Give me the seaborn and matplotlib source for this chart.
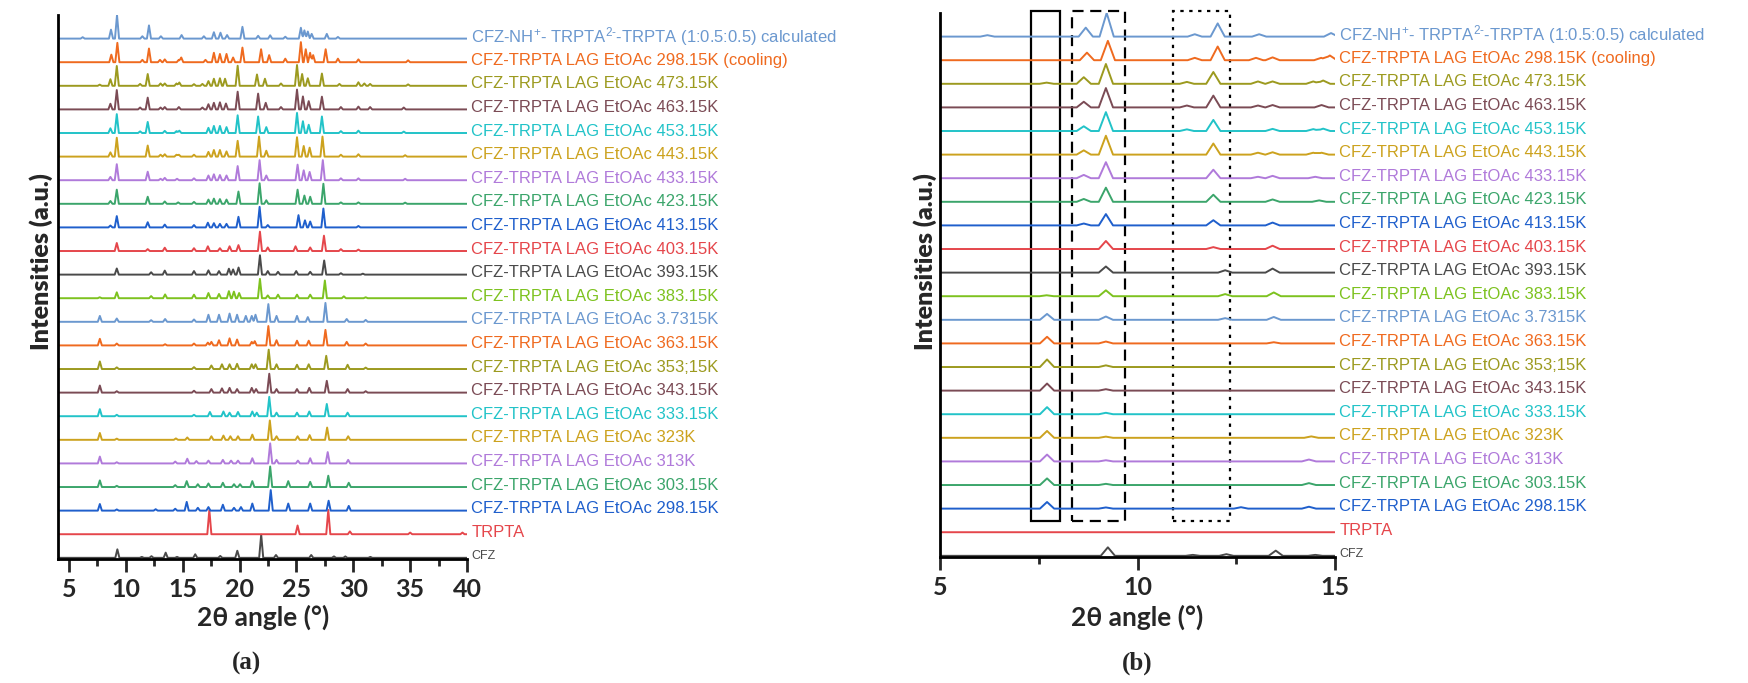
"""
Stacked variable-temperature PXRD patterns of CFZ-TRPTA (LAG, EtOAc).
(a) full 2-theta range, (b) low-angle zoom with boxed regions.
Writes out.png
"""
import numpy as np
import matplotlib.pyplot as plt
import matplotlib.patches as mpatches
from matplotlib.ticker import MultipleLocator
import seaborn as sns

# ---------------------------------------------------------------- data
# peak lists (2theta in degrees, height in units of trace spacing), bottom -> top
cfz = [(9.25, 0.36), (11.4, 0.04), (12.25, 0.07), (13.5, 0.22), (14.5, 0.04),
       (16.1, 0.15), (18.3, 0.08), (19.8, 0.3), (21.9, 0.98), (23.2, 0.12),
       (26.3, 0.12), (28.3, 0.06), (29.3, 0.06), (31.5, 0.04)]
trpta = [(17.34, 1.03), (25.1, 0.37), (27.8, 1.03), (29.7, 0.12), (35.0, 0.07), (39.6, 0.07)]
t298 = [(7.71, 0.28), (9.2, 0.05), (12.62, 0.06), (14.34, 0.08), (15.35, 0.37), (16.33, 0.12),
        (17.26, 0.15), (18.53, 0.25), (19.51, 0.12), (20.12, 0.15), (21.12, 0.3), (22.74, 0.87),
        (24.28, 0.3), (26.21, 0.3), (27.83, 0.42), (29.6, 0.2)]
t303 = [(7.71, 0.28), (9.2, 0.05), (14.34, 0.08), (15.35, 0.25), (16.33, 0.12), (17.26, 0.15),
        (18.53, 0.18), (19.51, 0.12), (20.04, 0.12), (21.12, 0.25), (22.69, 0.87), (24.28, 0.25),
        (26.21, 0.22), (27.8, 0.48), (29.6, 0.18)]
t313 = [(7.71, 0.29), (9.2, 0.05), (14.34, 0.08), (15.4, 0.2), (16.2, 0.1), (17.26, 0.12),
        (18.53, 0.15), (19.25, 0.12), (19.86, 0.12), (21.12, 0.22), (22.69, 0.85), (23.25, 0.15),
        (25.13, 0.12), (26.21, 0.22), (27.75, 0.48), (29.55, 0.15)]
t323 = [(7.71, 0.29), (9.2, 0.05), (14.4, 0.06), (15.4, 0.1), (17.52, 0.15), (18.58, 0.18),
        (19.19, 0.15), (19.86, 0.15), (21.12, 0.22), (22.66, 0.82), (23.25, 0.15), (25.1, 0.15),
        (26.16, 0.2), (27.7, 0.52), (29.55, 0.15)]
t333 = [(7.71, 0.3), (9.2, 0.06), (15.99, 0.06), (17.39, 0.18), (18.58, 0.2), (19.12, 0.15),
        (19.86, 0.18), (21.12, 0.2), (21.51, 0.15), (22.61, 0.82), (23.25, 0.15), (25.05, 0.15),
        (26.13, 0.2), (27.67, 0.52), (29.5, 0.15)]
t343 = [(7.71, 0.3), (9.2, 0.06), (15.99, 0.08), (17.52, 0.15), (18.45, 0.18), (19.12, 0.2),
        (19.78, 0.15), (21.07, 0.2), (21.45, 0.15), (22.61, 0.8), (23.25, 0.15), (25.05, 0.15),
        (26.13, 0.2), (27.67, 0.5), (29.5, 0.15), (31.09, 0.06)]
t353 = [(7.71, 0.32), (9.2, 0.07), (15.99, 0.08), (17.52, 0.15), (18.45, 0.2), (19.12, 0.2),
        (19.78, 0.22), (21.07, 0.2), (21.4, 0.2), (22.56, 0.82), (23.25, 0.2), (25.05, 0.18),
        (26.08, 0.2), (27.62, 0.56), (29.5, 0.18), (31.09, 0.06)]
t363 = [(7.71, 0.28), (9.2, 0.08), (13.45, 0.05), (15.99, 0.08), (17.21, 0.12), (17.52, 0.15),
        (18.19, 0.22), (19.12, 0.3), (19.78, 0.25), (21.07, 0.15), (21.33, 0.18), (22.53, 0.82),
        (23.25, 0.22), (25.05, 0.2), (26.08, 0.2), (27.55, 0.66), (29.42, 0.15), (31.09, 0.08)]
t373 = [(7.71, 0.25), (9.2, 0.14), (12.22, 0.07), (13.45, 0.12), (15.99, 0.1), (17.26, 0.3),
        (18.19, 0.3), (19.12, 0.35), (19.78, 0.3), (20.55, 0.25), (21.07, 0.25), (21.4, 0.3),
        (22.53, 0.75), (23.25, 0.25), (25.05, 0.25), (26.0, 0.2), (27.55, 0.8), (29.42, 0.12),
        (31.09, 0.08)]
t383 = [(7.7, 0.04), (9.2, 0.25), (12.22, 0.09), (13.45, 0.16), (15.99, 0.15), (17.26, 0.22),
        (18.19, 0.18), (19.06, 0.3), (19.5, 0.28), (19.96, 0.22), (21.79, 0.82), (22.48, 0.12),
        (23.38, 0.15), (25.05, 0.15), (26.21, 0.15), (27.5, 0.75), (29.17, 0.08), (31.09, 0.04)]
t393 = [(9.2, 0.26), (12.22, 0.1), (13.42, 0.17), (15.99, 0.15), (17.26, 0.18), (18.19, 0.15),
        (19.06, 0.25), (19.43, 0.22), (19.91, 0.3), (21.79, 0.82), (22.48, 0.15), (23.38, 0.12),
        (24.98, 0.15), (26.21, 0.12), (27.44, 0.6), (28.91, 0.06), (30.84, 0.04)]
t403 = [(9.2, 0.34), (11.92, 0.08), (13.42, 0.14), (15.99, 0.12), (17.21, 0.2), (18.27, 0.12),
        (19.12, 0.2), (19.9, 0.25), (21.79, 0.82), (22.48, 0.15), (24.92, 0.2), (26.21, 0.15),
        (27.42, 0.65), (28.91, 0.08), (30.45, 0.06)]
t413 = [(8.64, 0.08), (9.2, 0.48), (11.92, 0.22), (13.42, 0.12), (15.99, 0.1), (17.21, 0.2),
        (17.74, 0.18), (18.27, 0.15), (18.85, 0.15), (19.9, 0.45), (21.76, 0.87), (22.48, 0.1),
        (25.18, 0.52), (25.75, 0.3), (26.21, 0.25), (27.37, 0.8), (30.45, 0.06)]
t423 = [(8.64, 0.12), (9.2, 0.6), (11.92, 0.3), (13.42, 0.1), (14.6, 0.06), (15.99, 0.08),
        (17.26, 0.18), (17.74, 0.22), (18.27, 0.2), (18.85, 0.18), (19.9, 0.52), (21.76, 0.87),
        (22.35, 0.15), (25.1, 0.6), (25.7, 0.35), (26.21, 0.3), (27.37, 0.85), (28.91, 0.06),
        (30.45, 0.06), (34.56, 0.05)]
t433 = [(8.64, 0.14), (9.2, 0.68), (11.92, 0.36), (13.05, 0.06), (13.42, 0.1), (14.5, 0.06),
        (15.99, 0.08), (17.26, 0.2), (17.74, 0.25), (18.27, 0.22), (18.85, 0.2), (19.83, 0.6),
        (21.76, 0.85), (22.35, 0.2), (25.1, 0.66), (25.64, 0.42), (26.16, 0.35), (27.32, 0.85),
        (28.91, 0.08), (30.45, 0.08), (34.56, 0.06)]
t443 = [(8.64, 0.18), (9.2, 0.8), (11.92, 0.47), (13.05, 0.08), (13.42, 0.1), (14.45, 0.08),
        (14.66, 0.08), (15.99, 0.08), (17.26, 0.2), (17.74, 0.28), (18.27, 0.28), (18.85, 0.22),
        (19.83, 0.67), (21.71, 0.85), (22.35, 0.25), (25.05, 0.82), (25.64, 0.45), (26.16, 0.38),
        (27.29, 0.85), (28.91, 0.08), (30.45, 0.1), (34.56, 0.06)]
t453 = [(8.64, 0.2), (9.2, 0.8), (11.25, 0.07), (11.92, 0.47), (13.42, 0.09), (14.45, 0.08),
        (14.7, 0.1), (17.26, 0.22), (17.74, 0.3), (18.27, 0.3), (18.85, 0.25), (19.83, 0.75),
        (21.63, 0.7), (22.35, 0.25), (25.05, 0.85), (25.57, 0.5), (26.08, 0.35), (27.24, 0.7),
        (28.91, 0.08), (30.45, 0.1), (34.44, 0.06)]
t463 = [(8.64, 0.24), (9.2, 0.82), (11.25, 0.08), (11.92, 0.5), (13.05, 0.08), (13.42, 0.1),
        (14.66, 0.1), (16.73, 0.08), (17.26, 0.22), (17.74, 0.28), (18.27, 0.3), (18.8, 0.25),
        (19.83, 0.75), (21.63, 0.67), (22.3, 0.28), (23.64, 0.1), (25.05, 0.84), (25.57, 0.55),
        (26.08, 0.35), (27.24, 0.54), (28.91, 0.1), (30.45, 0.12), (31.48, 0.1), (34.44, 0.08)]
t473 = [(7.7, 0.05), (8.64, 0.28), (9.2, 0.84), (11.25, 0.08), (11.92, 0.5), (13.05, 0.1),
        (13.42, 0.1), (14.45, 0.1), (14.7, 0.14), (15.99, 0.07), (16.73, 0.08), (17.26, 0.2),
        (17.74, 0.3), (18.27, 0.32), (18.72, 0.3), (19.83, 0.85), (21.53, 0.48), (22.23, 0.3),
        (23.64, 0.1), (25.05, 0.88), (25.5, 0.5), (26.0, 0.32), (27.24, 0.52), (28.78, 0.08),
        (30.45, 0.15), (30.97, 0.1), (31.48, 0.08), (34.82, 0.06)]
cooling = [(8.72, 0.32), (9.25, 0.82), (11.45, 0.1), (12.03, 0.58), (13.0, 0.1), (13.42, 0.12),
           (14.65, 0.1), (14.87, 0.2), (17.0, 0.1), (17.74, 0.4), (18.27, 0.35), (18.85, 0.35),
           (19.43, 0.2), (20.25, 0.62), (21.89, 0.55), (22.6, 0.3), (24.02, 0.15), (25.39, 0.85),
           (25.82, 0.55), (26.2, 0.4), (26.47, 0.3), (27.57, 0.55), (28.65, 0.15), (30.45, 0.12),
           (34.82, 0.08)]
calc = [(6.2, 0.06), (8.69, 0.38), (9.22, 1.0), (11.45, 0.1), (12.03, 0.56), (13.08, 0.1),
        (14.9, 0.15), (16.86, 0.1), (17.74, 0.27), (18.32, 0.25), (18.9, 0.15), (20.25, 0.5),
        (21.63, 0.12), (22.69, 0.14), (24.02, 0.08), (25.39, 0.46), (25.7, 0.35), (26.0, 0.3),
        (26.34, 0.2), (27.67, 0.2), (28.65, 0.07)]

patterns = [cfz, trpta, t298, t303, t313, t323, t333, t343, t353, t363, t373,
            t383, t393, t403, t413, t423, t433, t443, t453, t463, t473, cooling, calc]

labels = ["CFZ", "TRPTA"] + [f"CFZ-TRPTA LAG EtOAc {t}" for t in [
    "298.15K", "303.15K", "313K", "323K", "333.15K", "343.15K", "353;15K", "363.15K",
    "3.7315K", "383.15K", "393.15K", "403.15K", "413.15K", "423.15K", "433.15K",
    "443.15K", "453.15K", "463.15K", "473.15K", "298.15K (cooling)"]] + [
    "CFZ-NH$^{+}$- TRPTA$^{2\u2010}$-TRPTA (1:0.5:0.5) calculated"]

# boxed regions in panel (b): (x0, x1)
box_solid = (7.30, 8.03)
box_dashed = (8.33, 9.68)
box_dotted = (10.91, 12.34)

# ---------------------------------------------------------------- style
cycle = ["#4a4a4a", "#e5464b", "#1f5fcc", "#3ba56b", "#b07ada", "#cca21e",
         "#22c3c8", "#7b4b55", "#9c9a1f", "#ef6a1f", "#6b98cf", "#7dc21f"]
colors = [cycle[i % len(cycle)] for i in range(len(patterns))]

sns.set_theme(style="white")
plt.rcParams["font.family"] = ["Liberation Sans", "DejaVu Sans"]
plt.rcParams["mathtext.fontset"] = "custom"
plt.rcParams["mathtext.rm"] = "Liberation Sans"
plt.rcParams["mathtext.default"] = "regular"
BOLD_FAMILY = ["Lato", "DejaVu Sans"]

HALF_W = 0.18   # half base width of drawn peaks (deg)
X_MIN, X_MAX = 4.03, 40.0


def profile(peaks):
    """Piecewise-linear trace: each peak drawn as a narrow triangle."""
    pos = np.array([p for p, _ in peaks])
    hgt = np.array([h for _, h in peaks])
    xs = np.unique(np.concatenate([[X_MIN, X_MAX], pos - HALF_W, pos, pos + HALF_W]))
    ys = np.clip(1 - np.abs(xs[:, None] - pos[None, :]) / HALF_W, 0, None) @ hgt
    return xs, ys


W, H = 1748, 683
fig = plt.figure(figsize=(W / 100, H / 100), dpi=100)
ax_a = fig.add_axes([58 / W, 1 - 559 / H, (467 - 58) / W, (559 - 15) / H])
ax_b = fig.add_axes([940 / W, 1 - 557 / H, (1335 - 940) / W, (557 - 13) / H])

for ax, xlim in [(ax_a, (X_MIN, X_MAX)), (ax_b, (5, 15))]:
    for i, (pk, col, lab) in enumerate(zip(patterns, colors, labels)):
        xs, ys = profile(pk)
        sns.lineplot(x=xs, y=ys + i, ax=ax, color=col, lw=1.4,
                     sort=False, estimator=None)
        ax.annotate(lab, xy=(1, i + 0.08), xycoords=("axes fraction", "data"),
                    xytext=(3, 0), textcoords="offset points", va="center",
                    ha="left", color=col, fontsize=9 if lab == "CFZ" else 12,
                    annotation_clip=False)
    ax.set_xlim(*xlim)
    ax.set_ylim(-0.05, 23.0)
    ax.set_yticks([])
    ax.xaxis.set_major_locator(MultipleLocator(5))
    ax.xaxis.set_minor_locator(MultipleLocator(2.5))
    for s in ["top", "right"]:
        ax.spines[s].set_visible(False)
    for s in ["left", "bottom"]:
        ax.spines[s].set_linewidth(2.0)
        ax.spines[s].set_color("black")
    ax.tick_params(axis="x", which="major", direction="out", length=9, width=2,
                   pad=5, labelsize=18, bottom=True)
    ax.tick_params(axis="x", which="minor", direction="out", length=5, width=2,
                   bottom=True)
    for t in ax.get_xticklabels():
        t.set_fontweight("bold")
        t.set_family(BOLD_FAMILY)

# boxed regions on panel (b)
y0, y1 = 1.47, 23.1
for (x0, x1), ls in [(box_solid, "-"), (box_dashed, (0, (5, 3))), (box_dotted, (0, (1.5, 2.5)))]:
    ax_b.add_patch(mpatches.Rectangle((x0, y0), x1 - x0, y1 - y0, fill=False,
                                      lw=1.6, ls=ls, ec="black", clip_on=False))

# axis titles and panel letters
for xc, xl in [(41, 263), (925, 1137)]:
    fig.text(xc / W, 1 - 262 / H, "Intensities (a.u.)", rotation=90, ha="center",
             va="center", fontsize=18, fontweight="heavy", family=BOLD_FAMILY)
    fig.text(xl / W, 1 - 617 / H, "2\u03b8 angle (\u00b0)", ha="center", va="center",
             fontsize=19, fontweight="bold", family=BOLD_FAMILY)
fig.text(247 / W, 1 - 663 / H, "(a)", ha="center", va="center", fontsize=18,
         fontweight="bold", family="Liberation Serif")
fig.text(1137 / W, 1 - 663 / H, "(b)", ha="center", va="center", fontsize=18,
         fontweight="bold", family="Liberation Serif")

fig.savefig("out.png", dpi=100)
